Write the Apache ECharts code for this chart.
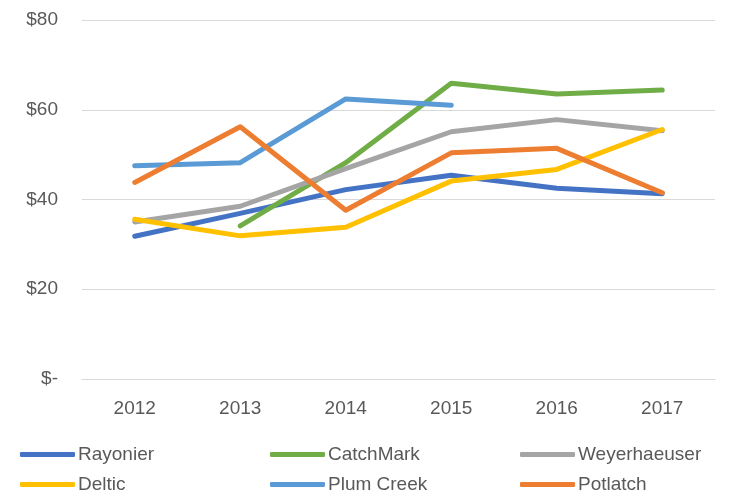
<!DOCTYPE html>
<html>
<head>
<meta charset="utf-8">
<script src="https://cdn.jsdelivr.net/npm/echarts@6/dist/echarts.min.js"></script>
<style>
  html, body { margin: 0; padding: 0; background: #fff; }
  #chart { width: 729px; height: 494px; }
</style>
</head>
<body>
<div id="chart"></div>
<script>
// values
var years = ['2012', '2013', '2014', '2015', '2016', '2017'];
var rayonier = [31.8, 36.9, 42.2, 45.4, 42.5, 41.3];
var catchMark = ['-', 34.1, 48.2, 65.9, 63.5, 64.4];
var weyerhaeuser = [35.0, 38.5, 46.9, 55.1, 57.8, 55.3];
var deltic = [35.6, 31.9, 33.8, 44.1, 46.7, 55.6];
var plumCreek = [47.5, 48.2, 62.4, 61.0, '-', '-'];
var potlatch = [43.8, 56.2, 37.6, 50.4, 51.4, 41.5];
var yTicks = [0, 20, 40, 60, 80];

var font = "'Liberation Sans', sans-serif";
var textColor = '#595959';

var chart = echarts.init(document.getElementById('chart'));

function line(name, data, color) {
    return {
        name: name,
        type: 'line',
        data: data,
        showSymbol: false,
        symbol: 'none',
        lineStyle: { width: 5, color: color, cap: 'round', join: 'round' },
        itemStyle: { color: color },
        z: 2
    };
}

// one legend per entry so the 3x2 grid lines up like the original
function legendItem(left, top, name) {
    return {
        left: left,
        top: top,
        itemWidth: 55,
        itemHeight: 5,
        icon: 'roundRect',
        padding: 0,
        data: [name],
        textStyle: { color: textColor, fontFamily: font, fontSize: 19, padding: [0, 0, 0, -2] }
    };
}

var option = {
    animation: false,
    grid: { left: 82, right: 14, top: 20, bottom: 115 },
    legend: [
        legendItem(20, 445, 'Rayonier'),
        legendItem(270, 445, 'CatchMark'),
        legendItem(520, 445, 'Weyerhaeuser'),
        legendItem(20, 475, 'Deltic'),
        legendItem(270, 475, 'Plum Creek'),
        legendItem(520, 475, 'Potlatch')
    ],
    xAxis: {
        type: 'category',
        data: years,
        boundaryGap: true,
        axisLine: { show: true, lineStyle: { color: '#D9D9D9', width: 1 } },
        axisTick: { show: false },
        axisLabel: { color: textColor, fontFamily: font, fontSize: 19, margin: 20 }
    },
    yAxis: {
        type: 'value',
        min: yTicks[0],
        max: yTicks[yTicks.length - 1],
        interval: 20,
        axisLine: { show: false },
        axisTick: { show: false },
        splitLine: { lineStyle: { color: '#D9D9D9', width: 1 } },
        axisLabel: {
            color: textColor, fontFamily: font, fontSize: 19, margin: 24,
            formatter: function (v) { return v === 0 ? '$-' : '$' + v; }
        }
    },
    series: [
        line('Rayonier', rayonier, '#4472C4'),
        line('CatchMark', catchMark, '#70AD47'),
        line('Weyerhaeuser', weyerhaeuser, '#A5A5A5'),
        line('Deltic', deltic, '#FFC000'),
        line('Plum Creek', plumCreek, '#5B9BD5'),
        line('Potlatch', potlatch, '#ED7D31')
    ]
};

chart.setOption(option);
window.addEventListener('resize', function () { chart.resize(); });
</script>
</body>
</html>
